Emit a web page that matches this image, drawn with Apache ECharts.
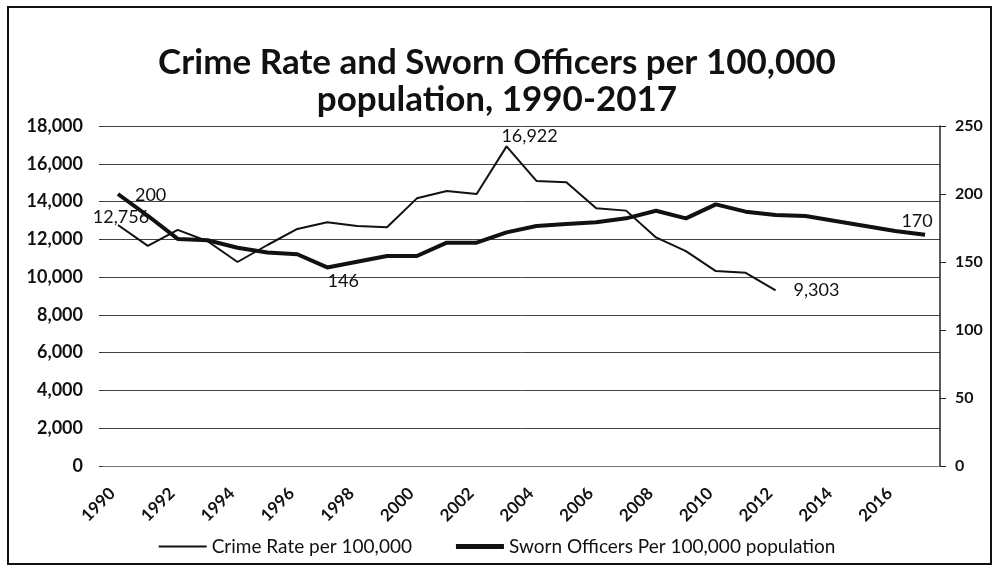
<!DOCTYPE html>
<html>
<head>
<meta charset="utf-8">
<script src="https://cdn.jsdelivr.net/npm/echarts@6/dist/echarts.min.js"></script>
<style>
  html, body { margin: 0; padding: 0; background: #fff; }
  #chart { width: 994px; height: 575px; }
</style>
</head>
<body>
<div id="chart"></div>
<script>
// Years on the category axis
const years = [];
for (let y = 1990; y <= 2017; y++) years.push(String(y));

// Crime rate per 100,000 (1990-2012)
const crimeRate = [12756, 11650, 12500, 11900, 10800, 11700, 12550, 12900, 12700, 12640,
  14170, 14560, 14400, 16922, 15090, 15020, 13640, 13520, 12100, 11380, 10320, 10230, 9303];

// Sworn officers per 100,000 population (1990-2017)
const swornOfficers = [200, 184, 167, 166, 160.5, 157, 155.7, 146, 150.2, 154.4,
  154.4, 164.2, 164.2, 171.8, 176.5, 178, 179.2, 182.1, 187.7, 182.1,
  192.4, 187, 184.6, 183.8, 180.1, 176.5, 172.8, 170];

// Labelled points: index -> label placement
const crimeLabels = { 0: { position: 'top', offset: [3, 6] }, 13: { position: 'top', offset: [23, 4] }, 22: { position: 'right', offset: [13, 0] } };
const swornLabels = { 0: { position: 'right', offset: [12, 1] }, 7: { position: 'bottom', offset: [16, 0] }, 27: { position: 'top', offset: [-8, 0] } };

const labelFont = { fontFamily: 'Lato', fontSize: 18, color: '#111' };

function withLabels(values, labels, fmt) {
  return values.map((v, i) => {
    if (!labels[i]) return v;
    return {
      value: v,
      label: Object.assign({ show: true, formatter: fmt }, labelFont, labels[i])
    };
  });
}

const fmtComma = p => Number(p.value).toLocaleString('en-US');
const fmtPlain = p => String(Math.round(p.value));

const chart = echarts.init(document.getElementById('chart'), null, { renderer: 'canvas' });

chart.setOption({
  animation: false,
  backgroundColor: '#fff',
  title: {
    text: 'Crime Rate and Sworn Officers per 100,000\npopulation, 1990-2017',
    left: 'center',
    top: 39,
    textStyle: { fontFamily: 'Lato', fontWeight: 'bold', fontSize: 35, lineHeight: 37, color: '#111' }
  },
  graphic: [{
    type: 'rect',
    shape: { x: 8, y: 7, width: 983, height: 557 },
    style: { fill: 'none', stroke: '#111', lineWidth: 2 },
    silent: true
  }],
  legend: {
    bottom: 14,
    left: 'center',
    itemWidth: 48,
    itemHeight: 12,
    itemGap: 44,
    symbolKeepAspect: true,
    textStyle: { fontFamily: 'Lato', fontSize: 19, color: '#111' },
    data: [
      { name: 'Crime Rate per 100,000', icon: 'path://M0,0H48V2H0Z' },
      { name: 'Sworn Officers Per 100,000 population', icon: 'path://M0,0H48V5H0Z' }
    ]
  },
  grid: { left: 103, right: 54, top: 126, bottom: 109, containLabel: false },
  xAxis: {
    type: 'category',
    data: years,
    boundaryGap: true,
    axisLine: { show: true, lineStyle: { color: '#777', width: 1 } },
    axisTick: { show: false },
    axisLabel: {
      interval: 1,
      rotate: 45,
      margin: 19,
      padding: [0, 8, 0, 0],
      fontFamily: 'Lato',
      fontSize: 17,
      fontWeight: 'bold',
      color: '#111'
    }
  },
  yAxis: [{
    type: 'value',
    min: 0,
    max: 18000,
    interval: 2000,
    axisLine: { show: false },
    axisTick: { show: true, length: 4, lineStyle: { color: '#333' } },
    splitLine: { show: true, lineStyle: { color: '#444', width: 1 } },
    axisLabel: {
      margin: 20,
      fontFamily: 'Lato',
      fontSize: 18,
      fontWeight: 'bold',
      color: '#111',
      formatter: v => v.toLocaleString('en-US')
    }
  }, {
    type: 'value',
    min: 0,
    max: 250,
    interval: 50,
    position: 'right',
    axisLine: { show: true, lineStyle: { color: '#222', width: 1.5 } },
    axisTick: { show: true, length: 6, lineStyle: { color: '#222' } },
    splitLine: { show: false },
    axisLabel: {
      margin: 15,
      fontFamily: 'Lato',
      fontSize: 16,
      fontWeight: 'bold',
      color: '#111'
    }
  }],
  series: [{
    name: 'Crime Rate per 100,000',
    type: 'line',
    yAxisIndex: 0,
    symbol: 'circle',
    symbolSize: 0,
    showSymbol: true,
    lineStyle: { color: '#111', width: 2 },
    itemStyle: { color: '#111' },
    data: withLabels(crimeRate, crimeLabels, fmtComma)
  }, {
    name: 'Sworn Officers Per 100,000 population',
    type: 'line',
    yAxisIndex: 1,
    symbol: 'circle',
    symbolSize: 0,
    showSymbol: true,
    lineStyle: { color: '#111', width: 4 },
    itemStyle: { color: '#111' },
    data: withLabels(swornOfficers, swornLabels, fmtPlain)
  }]
});
</script>
</body>
</html>
